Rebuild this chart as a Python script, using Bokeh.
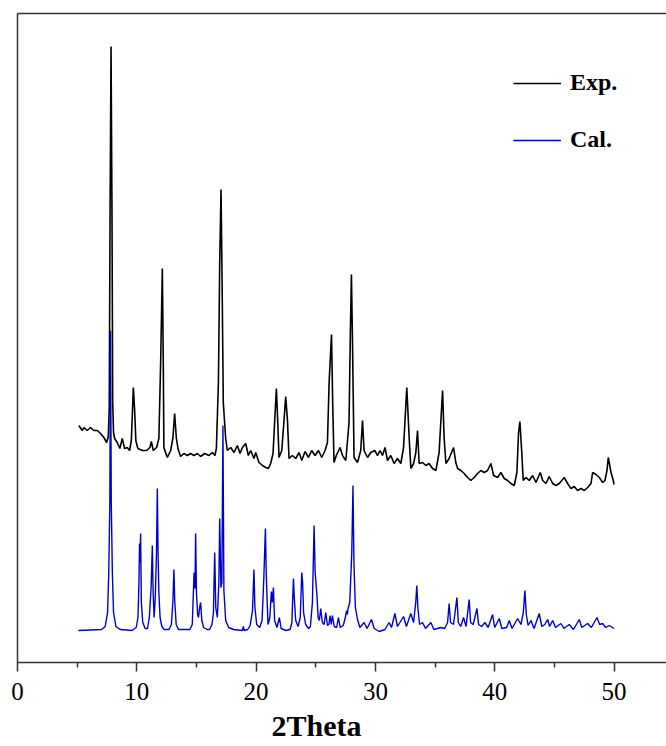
from bokeh.plotting import figure
from bokeh.models import Range1d, LinearAxis, FixedTicker, Legend, LegendItem, ColumnDataSource, Title
from bokeh.embed import file_html
from bokeh.resources import INLINE

# Experimental powder pattern (2theta in degrees, intensity in a.u.)
exp_2theta = [5.14, 5.43, 5.56, 5.85, 6.12, 6.40, 6.69, 6.96, 7.24, 7.47, 7.61, 7.69, 7.76, 7.84,
              7.92, 7.98, 8.05, 8.14, 8.36, 8.58, 8.78, 8.98, 9.20, 9.40, 9.54, 9.63, 9.71, 9.82,
              9.92, 10.09, 10.46, 10.82, 11.10, 11.22, 11.38, 11.66, 11.85, 12.00, 12.14, 12.22,
              12.27, 12.56, 12.84, 13.03, 13.17, 13.31, 13.45, 13.67, 13.95, 14.24, 14.51, 14.79,
              15.08, 15.35, 15.69, 16.05, 16.33, 16.55, 16.67, 16.84, 16.95, 17.06, 17.15, 17.25,
              17.45, 17.59, 17.87, 18.15, 18.43, 18.65, 18.85, 19.13, 19.35, 19.55, 19.82, 19.97,
              20.24, 20.53, 20.81, 21.03, 21.22, 21.42, 21.56, 21.70, 21.81, 21.92, 22.15, 22.34,
              22.48, 22.63, 22.76, 23.04, 23.32, 23.60, 23.83, 24.10, 24.39, 24.66, 24.94, 25.23,
              25.50, 25.78, 25.98, 26.12, 26.32, 26.42, 26.53, 26.72, 27.04, 27.24, 27.52, 27.79,
              27.90, 27.99, 28.08, 28.21, 28.50, 28.77, 28.92, 29.05, 29.34, 29.61, 29.95, 30.18,
              30.39, 30.59, 30.81, 31.01, 31.29, 31.57, 31.85, 32.13, 32.36, 32.63, 32.83, 32.97,
              33.20, 33.39, 33.53, 33.67, 33.95, 34.23, 34.50, 34.79, 35.07, 35.34, 35.63, 35.76,
              35.91, 36.18, 36.55, 36.74, 36.89, 37.16, 37.44, 37.73, 38.00, 38.28, 38.56, 38.84,
              39.12, 39.40, 39.68, 39.91, 40.24, 40.52, 40.80, 41.08, 41.36, 41.64, 41.86, 42.00,
              42.11, 42.26, 42.39, 42.62, 42.89, 43.18, 43.46, 43.82, 44.02, 44.30, 44.57, 44.86,
              45.13, 45.41, 45.83, 46.11, 46.39, 46.67, 46.95, 47.23, 47.51, 47.79, 48.07, 48.21,
              48.49, 48.77, 49.05, 49.24, 49.41, 49.52, 49.75, 49.94, 50.00]
exp_int = [237, 232, 235, 232, 235, 232, 232, 229, 225, 220, 226, 255, 450, 616,
           450, 260, 230, 224, 220, 214, 224, 214, 215, 212, 222, 250, 275, 252,
           222, 214, 212, 212, 215, 221, 212, 215, 224, 300, 394, 300,
           215, 205, 212, 225, 249, 225, 214, 206, 209, 207, 209, 207,
           209, 206, 209, 207, 210, 207, 214, 280, 400, 473, 380, 260,
           224, 212, 215, 210, 217, 209, 215, 219, 207, 212, 204, 210,
           200, 197, 195, 194, 199, 209, 242, 274, 242, 205, 212, 242,
           266, 242, 204, 207, 204, 210, 202, 211, 205, 212, 207, 212,
           205, 212, 220, 280, 328, 260, 200, 207, 215, 207, 202, 240,
           330, 388, 320, 205, 200, 212, 242, 212, 205, 210, 212, 207,
           212, 207, 215, 202, 207, 199, 204, 199, 215, 275, 225, 194,
           199, 210, 232, 199, 200, 197, 199, 194, 192, 210, 272, 225,
           199, 204, 215, 200, 194, 192, 189, 185, 182, 185, 189, 192,
           190, 192, 199, 187, 185, 190, 184, 182, 179, 177, 190, 230,
           241, 212, 182, 185, 182, 187, 180, 190, 182, 179, 186, 179,
           177, 179, 185, 179, 174, 176, 172, 174, 172, 175, 179, 190,
           188, 185, 180, 182, 192, 205, 190, 182, 178]

# Pattern calculated from the single-crystal structure
cal_2theta = [5.10, 7.05, 7.35, 7.55, 7.65, 7.74, 7.80, 7.86, 7.95, 8.05, 8.25, 8.60, 9.60, 9.95,
              10.10, 10.18, 10.23, 10.27, 10.32, 10.38, 10.50, 10.70, 10.90, 11.05, 11.20, 11.30,
              11.37, 11.45, 11.55, 11.65, 11.72, 11.78, 11.85, 11.95, 12.10, 12.30, 12.70, 12.90,
              13.03, 13.11, 13.18, 13.30, 13.50, 14.45, 14.65, 14.80, 14.88, 14.93, 15.00, 15.10,
              15.17, 15.27, 15.35, 15.45, 15.60, 15.90, 16.10, 16.30, 16.42, 16.53, 16.62, 16.75,
              16.88, 16.95, 17.05, 17.13, 17.22, 17.30, 17.45, 17.70, 18.10, 18.85, 18.93, 19.00,
              19.30, 19.50, 19.70, 19.82, 19.90, 20.05, 20.30, 20.50, 20.65, 20.78, 20.85, 20.93,
              21.00, 21.15, 21.28, 21.36, 21.45, 21.55, 21.75, 21.95, 22.10, 22.50, 22.85, 23.00,
              23.13, 23.20, 23.32, 23.52, 23.70, 23.83, 23.90, 23.98, 24.15, 24.40, 24.55, 24.72,
              24.86, 24.95, 25.10, 25.20, 25.30, 25.42, 25.55, 25.70, 25.84, 25.98, 26.10, 26.20,
              26.30, 26.40, 26.55, 26.75, 26.90, 27.05, 27.30, 27.48, 27.58, 27.65, 27.71, 27.85,
              28.02, 28.12, 28.20, 28.32, 28.50, 28.70, 29.05, 29.30, 29.67, 29.90, 30.31, 30.80,
              31.15, 31.35, 31.63, 31.85, 32.36, 32.60, 32.97, 33.20, 33.38, 33.47, 33.56, 33.70,
              33.95, 34.20, 34.65, 34.90, 35.49, 35.80, 36.05, 36.18, 36.30, 36.55, 36.83, 36.95,
              37.15, 37.39, 37.60, 37.86, 37.98, 38.20, 38.51, 38.65, 38.90, 39.18, 39.45, 39.82,
              40.00, 40.38, 40.60, 41.00, 41.22, 41.45, 41.92, 42.20, 42.40, 42.53, 42.65, 42.80,
              43.04, 43.30, 43.73, 43.95, 44.20, 44.44, 44.60, 44.86, 45.10, 45.55, 45.80, 46.25,
              46.60, 47.09, 47.30, 47.79, 48.10, 48.57, 48.80, 49.05, 49.30, 49.60, 50.00]
cal_int = [32, 33, 36, 50, 90, 160, 332, 160, 90, 50, 36, 33, 32, 35,
           45, 80, 119, 100, 129, 60, 40, 34, 34, 45, 75, 117,
           70, 45, 65, 110, 174, 110, 70, 45, 36, 33, 33, 38,
           62, 93, 62, 38, 33, 33, 38, 90, 74, 129, 70, 48,
           45, 55, 60, 42, 35, 33, 33, 38, 49, 110, 55, 45,
           80, 144, 75, 80, 237, 72, 42, 35, 33, 32, 36, 32,
           33, 37, 52, 93, 55, 38, 35, 42, 85, 134, 90, 60,
           38, 45, 71, 60, 75, 42, 35, 45, 34, 32, 33, 40,
           84, 65, 42, 36, 45, 90, 80, 50, 38, 34, 36, 60,
           137, 90, 67, 45, 42, 54, 40, 38, 50, 37, 38, 47,
           38, 47, 36, 35, 45, 35, 37, 45, 52, 48, 54, 60,
           110, 177, 100, 55, 43, 35, 40, 34, 43, 34, 31, 33,
           40, 35, 49, 36, 46, 36, 49, 40, 60, 77, 55, 38,
           40, 34, 40, 33, 35, 34, 40, 59, 40, 38, 65, 40,
           36, 45, 36, 63, 40, 38, 54, 38, 36, 40, 35, 48,
           35, 44, 34, 35, 42, 34, 44, 38, 50, 72, 48, 37,
           42, 34, 49, 36, 38, 43, 36, 42, 35, 39, 34, 38,
           33, 43, 35, 39, 35, 45, 38, 39, 35, 37, 34]

x_ticks = [0, 10, 20, 30, 40, 50]
x_minor_ticks = [5, 15, 25, 35, 45]
series_labels = ["Exp.", "Cal."]
x_title = "2Theta"

SERIF = "Liberation Serif"
FRAME = "#333333"

p = figure(width=666, height=746, output_backend="svg", toolbar_location=None,
           x_range=Range1d(0, 54.4), y_range=Range1d(0, 649),
           min_border_left=17, min_border_right=0, min_border_top=13, min_border_bottom=84)
p.outline_line_color = None
p.xgrid.grid_line_color = None
p.ygrid.grid_line_color = None
p.background_fill_color = "white"
p.border_fill_color = "white"

# bottom axis
xa = p.xaxis[0]
xa.ticker = FixedTicker(ticks=x_ticks, minor_ticks=x_minor_ticks)
xa.axis_line_color = FRAME
xa.axis_line_width = 1.5
xa.major_tick_line_color = FRAME
xa.major_tick_line_width = 1.5
xa.minor_tick_line_color = FRAME
xa.minor_tick_line_width = 1.5
xa.major_tick_in = 0
xa.major_tick_out = 9
xa.minor_tick_in = 0
xa.minor_tick_out = 5
xa.major_label_standoff = 11
xa.major_label_text_font = SERIF
xa.major_label_text_font_size = "25px"
xa.major_label_text_color = "black"

# axis title set slightly left of the frame centre
p.add_layout(Title(text=x_title, align="left", offset=254, standoff=8,
                   text_font=SERIF, text_font_style="bold", text_font_size="30px",
                   text_color="black"), "below")

# left and top frame lines, without ticks
ya = p.yaxis[0]
ya.ticker = FixedTicker(ticks=[])
ya.axis_line_color = FRAME
ya.axis_line_width = 1.5
ya.major_tick_line_color = None
ya.minor_tick_line_color = None
ya.major_label_text_font_size = "0px"

top = LinearAxis(ticker=FixedTicker(ticks=[]), axis_line_color=FRAME, axis_line_width=1.5,
                 major_tick_line_color=None, minor_tick_line_color=None,
                 major_label_text_font_size="0px")
p.add_layout(top, "above")

exp_src = ColumnDataSource(dict(x=exp_2theta, y=exp_int))
cal_src = ColumnDataSource(dict(x=cal_2theta, y=cal_int))

r_exp = p.line("x", "y", source=exp_src, line_color="black", line_width=1.6)
r_cal = p.line("x", "y", source=cal_src, line_color="#0000cc", line_width=1.4)

legend = Legend(items=[LegendItem(label=series_labels[0], renderers=[r_exp]),
                       LegendItem(label=series_labels[1], renderers=[r_cal])],
                location=(496, 509), orientation="vertical",
                border_line_color=None, background_fill_alpha=0,
                padding=0, margin=0, spacing=30,
                glyph_width=48, glyph_height=24, label_height=24, label_standoff=9,
                label_text_font=SERIF, label_text_font_style="bold",
                label_text_font_size="24px", label_text_color="black")
p.add_layout(legend)

open("out.html", "w").write(file_html(p, INLINE))
